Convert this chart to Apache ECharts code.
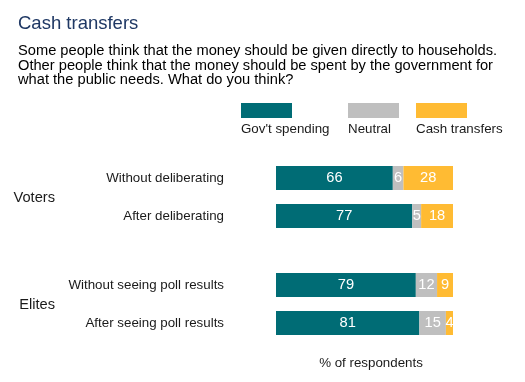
<!DOCTYPE html>
<html><head><meta charset="utf-8">
<script src="https://cdn.jsdelivr.net/npm/echarts@6/dist/echarts.min.js"></script>
<style>html,body{margin:0;padding:0;background:#fff}#c{width:525px;height:382px}</style>
</head><body><div id="c"></div>
<script>
const seriesNames = ["Gov't spending", "Neutral", "Cash transfers"];
const colors = ['#006C75', '#BFBFBF', '#FFBB33'];
const votersCats = ['Without deliberating', 'After deliberating'];
const elitesCats = ['Without seeing poll results', 'After seeing poll results'];
const votersGov = [66, 77];
const votersNeutral = [6, 5];
const votersCash = [28, 18];
const elitesGov = [79, 81];
const elitesNeutral = [12, 15];
const elitesCash = [9, 4];
const groupLabels = ['Voters', 'Elites'];
const axisName = '% of respondents';

const FONT = 'Liberation Sans, Arial, sans-serif';
const chart = echarts.init(document.getElementById('c'), null, {renderer: 'canvas'});

function mk(name, data, idx, color) {
  return {
    type: 'bar', name: name, stack: 's' + idx, data: data,
    xAxisIndex: idx, yAxisIndex: idx, barWidth: 24,
    itemStyle: {color: color},
    label: {show: true, position: 'inside', color: '#fff', fontSize: 14.67, fontFamily: FONT},
    emphasis: {disabled: true}
  };
}
const series = [];
[[votersGov, votersNeutral, votersCash], [elitesGov, elitesNeutral, elitesCash]].forEach((g, i) => {
  g.forEach((d, j) => series.push(mk(seriesNames[j], d, i, colors[j])));
});

const legendGraphics = [];
const legendX = [241, 348, 416];
seriesNames.forEach((n, i) => {
  legendGraphics.push({type: 'rect', left: legendX[i], top: 103, shape: {width: 51, height: 15}, style: {fill: colors[i]}});
  legendGraphics.push({type: 'text', left: legendX[i], top: 123, style: {text: n, fill: '#1a1a1a', font: '13.33px ' + FONT}});
});

function xAx(idx, showName) {
  return {
    type: 'value', gridIndex: idx, min: 0, max: 100, show: true,
    axisLine: {show: false}, axisTick: {show: false}, axisLabel: {show: false}, splitLine: {show: false},
    name: showName ? axisName : '', nameLocation: 'middle', nameGap: 15,
    nameTextStyle: {color: '#1a1a1a', fontSize: 13.33, fontFamily: FONT, padding: [0, 0, 0, 13]}
  };
}
function yAx(idx, cats) {
  return {
    type: 'category', gridIndex: idx, data: cats, inverse: true,
    axisLine: {show: false}, axisTick: {show: false}, splitLine: {show: false},
    axisLabel: {color: '#1a1a1a', fontSize: 13.33, fontFamily: FONT, margin: 52}
  };
}

chart.setOption({
  animation: false,
  textStyle: {fontFamily: FONT},
  title: [
    {text: 'Cash transfers', left: 18, top: 14, padding: 0, textStyle: {color: '#1F3864', fontSize: 18.5, fontWeight: 'normal', fontFamily: FONT}},
    {text: 'Some people think that the money should be given directly to households.\nOther people think that the money should be spent by the government for\nwhat the public needs. What do you think?',
     left: 18, top: 44, padding: 0, textStyle: {color: '#000', fontSize: 14.67, fontWeight: 'normal', lineHeight: 14.5, fontFamily: FONT}},
    {text: groupLabels[0], right: 470, top: 190, textStyle: {color: '#1a1a1a', fontSize: 14.67, fontWeight: 'normal', fontFamily: FONT}, padding: 0},
    {text: groupLabels[1], right: 470, top: 297, textStyle: {color: '#1a1a1a', fontSize: 14.67, fontWeight: 'normal', fontFamily: FONT}, padding: 0}
  ],
  grid: [
    {left: 276, width: 177, top: 159, height: 76},
    {left: 276, width: 177, top: 266, height: 76}
  ],
  xAxis: [xAx(0, false), xAx(1, true)],
  yAxis: [yAx(0, votersCats), yAx(1, elitesCats)],
  series: series,
  graphic: legendGraphics
});
</script></body></html>
